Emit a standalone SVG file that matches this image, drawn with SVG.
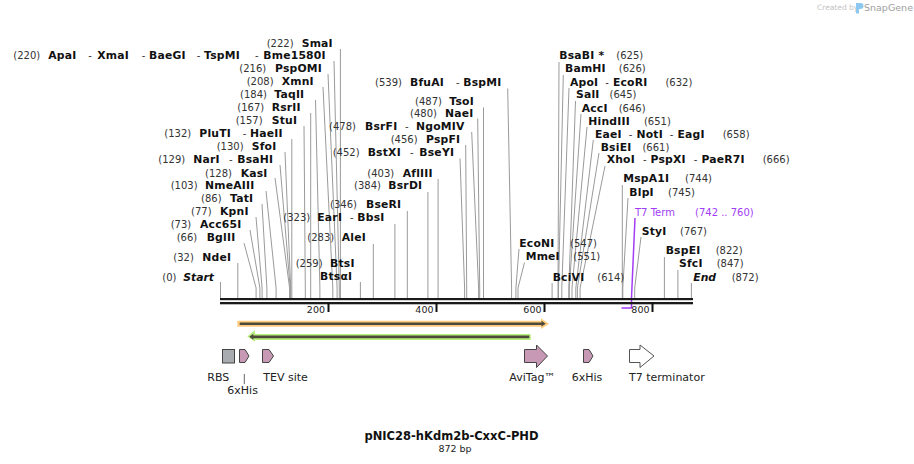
<svg xmlns="http://www.w3.org/2000/svg" width="914" height="464" viewBox="0 0 914 464">
<style>
text{font-family:"DejaVu Sans",Verdana,sans-serif}
.l{font-size:10px;fill:#333}
.b{font-weight:bold;fill:#111;font-size:10.8px;letter-spacing:0.2px}
.bi{font-weight:bold;font-style:italic;fill:#111;font-size:10.8px}
.f{font-size:11px;fill:#222}
.t{font-size:9.5px;fill:#222;text-anchor:end}
.ln{stroke:#9a9a9a;stroke-width:1;fill:none}
.ft{fill:#c899b4;stroke:#444;stroke-width:1}
.pu{fill:#a23cf5}
</style>
<rect width="914" height="464" fill="#fff"/>
<g id="watermark">
<text x="817" y="10" style="font-size:7.5px;fill:#c4c4c4">Created by</text>
<path d="M856,3 h4.5 a3,3 0 0 1 0,6 h-1.5 v4.5 h-3 z" fill="#8cc8f0"/>
<text x="864" y="10.5" style="font-size:9.5px;fill:#a0a0a0">SnapGene</text>
</g>
<g id="connectors">
<path class="ln" d="M340.4,49V298M334,61L339.3,288V298M328,74L337.1,288V298M323,87L332.8,288V298M315.5,100L319.9,288V298M310.7,113V298M304,126L305.3,288V298M291.8,139V298M285,152L290.7,288V298M280,165L290.2,288V298M275,178L289.6,288V298M266,191L276.1,288V298M262,204L266.9,288V298M256,217L262.1,288V298M250,230L259.9,288V298M244,243L256.1,288V298M237.8,263V298M220.5,282V298"/>
<path class="ln" d="M507.7,88.5L511.6,288V298M483.5,107.5V298M477.7,118.5L479.7,288V298M471.7,132L478.6,288V298M465.7,145L466.7,288V298M460,158.5L464.6,288V298M438.1,179V298M427.9,192V298M407.3,211V298M394.9,224V298M373.3,244V298M360.4,282V298"/>
<path class="ln" d="M559,62L558,288V298M563.3,75L558.5,288V298M569,88L561.8,288V298M575.5,101L568.8,288V298M581,114L569.3,288V298M587,127L572,288V298M593.3,140L575.8,288V298M599,153L577.4,288V298M605,166L580.1,288V298M622.3,185V298M628,198L622.8,288V298M641,237L634.7,288V298M519,249L515.9,288V298M524.5,262.5L518,288V298M664.4,257V298M677.9,270V298M552.1,283V298M691.4,283V298"/>
<path d="M635,218L631.5,298V308H621.5" stroke="#a23cf5" stroke-width="1.5" fill="none"/>
<path d="M244.3,374V384" stroke="#666" stroke-width="1"/>
</g>
<g id="backbone">
<rect x="220" y="298" width="473" height="2.2" fill="#1a1a1a"/>
<rect x="220" y="302" width="473" height="2.3" fill="#1a1a1a"/>
<rect x="327.5" y="302" width="2" height="10" fill="#111"/>
<rect x="435.5" y="302" width="2" height="10" fill="#111"/>
<rect x="543.5" y="302" width="2" height="10" fill="#111"/>
<rect x="651.5" y="302" width="2" height="10" fill="#111"/>
<text class="t" x="325" y="313.3">200</text>
<text class="t" x="433.5" y="313.3">400</text>
<text class="t" x="541.5" y="313.3">600</text>
<text class="t" x="649.5" y="313.3">800</text>
</g>
<g id="enz-left">
<text class="l" y="47"><tspan x="266.7">(222)</tspan><tspan class="b" x="301.7">SmaI</tspan></text>
<text class="l" y="59"><tspan x="13.3">(220)</tspan><tspan class="b" x="48.3">ApaI</tspan><tspan x="88.3">-</tspan><tspan class="b" x="97.3">XmaI</tspan><tspan x="141.7">-</tspan><tspan class="b" x="149">BaeGI</tspan><tspan x="196.7">-</tspan><tspan class="b" x="204">TspMI</tspan><tspan x="255">-</tspan><tspan class="b" x="263.3">Bme1580I</tspan></text>
<text class="l" y="72"><tspan x="239.3">(216)</tspan><tspan class="b" x="275">PspOMI</tspan></text>
<text class="l" y="85"><tspan x="246.7">(208)</tspan><tspan class="b" x="281.7">XmnI</tspan></text>
<text class="l" y="98"><tspan x="240">(184)</tspan><tspan class="b" x="274.3">TaqII</tspan></text>
<text class="l" y="111"><tspan x="237.3">(167)</tspan><tspan class="b" x="271.7">RsrII</tspan></text>
<text class="l" y="124"><tspan x="235.7">(157)</tspan><tspan class="b" x="271.7">StuI</tspan></text>
<text class="l" y="137"><tspan x="164.3">(132)</tspan><tspan class="b" x="199.3">PluTI</tspan><tspan x="242.7">-</tspan><tspan class="b" x="250">HaeII</tspan></text>
<text class="l" y="150"><tspan x="216.7">(130)</tspan><tspan class="b" x="251.7">SfoI</tspan></text>
<text class="l" y="163"><tspan x="158.3">(129)</tspan><tspan class="b" x="193.3">NarI</tspan><tspan x="229">-</tspan><tspan class="b" x="237.3">BsaHI</tspan></text>
<text class="l" y="176.5"><tspan x="205">(128)</tspan><tspan class="b" x="240.7">KasI</tspan></text>
<text class="l" y="189"><tspan x="170.7">(103)</tspan><tspan class="b" x="205">NmeAIII</tspan></text>
<text class="l" y="202"><tspan x="201">(86)</tspan><tspan class="b" x="230">TatI</tspan></text>
<text class="l" y="215"><tspan x="191">(77)</tspan><tspan class="b" x="220">KpnI</tspan></text>
<text class="l" y="228"><tspan x="170.7">(73)</tspan><tspan class="b" x="200">Acc65I</tspan></text>
<text class="l" y="241"><tspan x="176.7">(66)</tspan><tspan class="b" x="206.7">BglII</tspan></text>
<text class="l" y="260.5"><tspan x="173.3">(32)</tspan><tspan class="b" x="202.3">NdeI</tspan></text>
<text class="l" y="280.5"><tspan x="162.3">(0)</tspan><tspan class="bi" x="183.3">Start</tspan></text>
</g>
<g id="enz-mid">
<text class="l" y="85.5"><tspan x="375">(539)</tspan><tspan class="b" x="410">BfuAI</tspan><tspan x="456">-</tspan><tspan class="b" x="463.3">BspMI</tspan></text>
<text class="l" y="104.5"><tspan x="415">(487)</tspan><tspan class="b" x="449.3">TsoI</tspan></text>
<text class="l" y="116.5"><tspan x="410">(480)</tspan><tspan class="b" x="445">NaeI</tspan></text>
<text class="l" y="130"><tspan x="329">(478)</tspan><tspan class="b" x="365">BsrFI</tspan><tspan x="405">-</tspan><tspan class="b" x="416">NgoMIV</tspan></text>
<text class="l" y="143"><tspan x="390.7">(456)</tspan><tspan class="b" x="426">PspFI</tspan></text>
<text class="l" y="156"><tspan x="332.7">(452)</tspan><tspan class="b" x="367.7">BstXI</tspan><tspan x="410">-</tspan><tspan class="b" x="419.3">BseYI</tspan></text>
<text class="l" y="176.5"><tspan x="367.3">(403)</tspan><tspan class="b" x="402.7">AflIII</tspan></text>
<text class="l" y="189"><tspan x="354">(384)</tspan><tspan class="b" x="388.3">BsrDI</tspan></text>
<text class="l" y="208"><tspan x="330">(346)</tspan><tspan class="b" x="366">BseRI</tspan></text>
<text class="l" y="220.5"><tspan x="283.3">(323)</tspan><tspan class="b" x="317.3">EarI</tspan><tspan x="350">-</tspan><tspan class="b" x="357.3">BbsI</tspan></text>
<text class="l" y="241"><tspan x="307.3">(283)</tspan><tspan class="b" x="341.7">AleI</tspan></text>
<text class="l" y="266.5"><tspan x="295.7">(259)</tspan><tspan class="b" x="330">BtsI</tspan></text>
<text class="l" y="280"><tspan class="b" x="320">BtsαI</tspan></text>
</g>
<g id="enz-right">
<text class="l" y="59" x="559.3"><tspan class="b">BsaBI *</tspan><tspan dx="12">(625)</tspan></text>
<text class="l" y="72" x="565"><tspan class="b">BamHI</tspan><tspan dx="13">(626)</tspan></text>
<text class="l" y="85.5" x="570"><tspan class="b">ApoI</tspan><tspan dx="7">-</tspan><tspan class="b" dx="4">EcoRI</tspan><tspan dx="18">(632)</tspan></text>
<text class="l" y="98" x="576"><tspan class="b">SalI</tspan><tspan dx="10">(645)</tspan></text>
<text class="l" y="111.5" x="581.7"><tspan class="b">AccI</tspan><tspan dx="11">(646)</tspan></text>
<text class="l" y="125" x="588.3"><tspan class="b">HindIII</tspan><tspan dx="14">(651)</tspan></text>
<text class="l" y="138" x="595"><tspan class="b">EaeI</tspan><tspan dx="7">-</tspan><tspan class="b" dx="4">NotI</tspan><tspan dx="7">-</tspan><tspan class="b" dx="4">EagI</tspan><tspan dx="18">(658)</tspan></text>
<text class="l" y="150.5" x="600.7"><tspan class="b">BsiEI</tspan><tspan dx="11">(661)</tspan></text>
<text class="l" y="163" x="606.7"><tspan class="b">XhoI</tspan><tspan dx="8">-</tspan><tspan class="b" dx="4">PspXI</tspan><tspan dx="8">-</tspan><tspan class="b" dx="4">PaeR7I</tspan><tspan dx="18">(666)</tspan></text>
<text class="l" y="182"><tspan class="b" x="623.3">MspA1I</tspan><tspan x="685">(744)</tspan></text>
<text class="l" y="195.5"><tspan class="b" x="629.3">BlpI</tspan><tspan x="668">(745)</tspan></text>
<text class="l pu" y="215.5"><tspan x="635">T7 Term</tspan><tspan x="695">(742 .. 760)</tspan></text>
<text class="l" y="234.5"><tspan class="b" x="641.7">StyI</tspan><tspan x="680">(767)</tspan></text>
<text class="l" y="246.5"><tspan class="b" x="519.3">EcoNI</tspan><tspan x="570">(547)</tspan></text>
<text class="l" y="254"><tspan class="b" x="665.7">BspEI</tspan><tspan x="715.7">(822)</tspan></text>
<text class="l" y="260"><tspan class="b" x="525.7">MmeI</tspan><tspan x="573.3">(551)</tspan></text>
<text class="l" y="267"><tspan class="b" x="679">SfcI</tspan><tspan x="716.7">(847)</tspan></text>
<text class="l" y="280.5"><tspan class="b" x="552.7">BciVI</tspan><tspan x="597.3">(614)</tspan></text>
<text class="l" y="280.5"><tspan class="bi" x="693.3">End</tspan><tspan x="731.7">(872)</tspan></text>
</g>
<g id="orf-forward">
<path d="M237.3,320.7H541V318.3L549,323.7L541,329V326.7H237.3Z" fill="#ffcc80"/>
<path d="M239.7,322.4H541.5V320.7L545.7,323.7L541.5,326.5V325H239.7Z" fill="#4d4a3c"/>
</g>
<g id="orf-reverse">
<path d="M530.7,334H255V330L247.3,336.5L255,341.7V340H530.7Z" fill="#b8f07e"/>
<path d="M529.3,335.5H253.3V333.8L249.3,336.8L253.3,339.8V338.2H529.3Z" fill="#4d4a3c"/>
</g>
<g id="RBS"><rect x="222.5" y="349.5" width="12" height="13.5" fill="#a8abaf" stroke="#444"/><text class="f" x="207.3" y="380.5">RBS</text></g>
<g id="his1"><path class="ft" d="M239.5,349.5H245L249,356L245,362.5H239.5Z"/><text class="f" x="227.3" y="393.5">6xHis</text></g>
<g id="tev"><path class="ft" d="M262.5,349.5H269L273.5,356L269,362.5H262.5Z"/><text class="f" x="263.3" y="380.5">TEV site</text></g>
<g id="avitag"><path class="ft" d="M524.5,349.5H536.5V345L547.5,356L536.5,367.5V362.5H524.5Z"/><text class="f" x="509.3" y="380.5">AviTag™</text></g>
<g id="his2"><path class="ft" d="M583.5,349.5H589L593,356L589,362.5H583.5Z"/><text class="f" x="571.7" y="380.5">6xHis</text></g>
<g id="t7term"><path d="M629.5,349.5H640V345L654,356L640,367.5V362.5H629.5Z" fill="#fff" stroke="#555"/><text class="f" x="629" y="380.5">T7 terminator</text></g>
<g id="title">
<text x="451.5" y="440" text-anchor="middle" style="font-size:11.5px;font-weight:bold;fill:#111">pNIC28-hKdm2b-CxxC-PHD</text>
<text x="455" y="451.7" text-anchor="middle" style="font-size:9.5px;fill:#222">872 bp</text>
</g>
</svg>
